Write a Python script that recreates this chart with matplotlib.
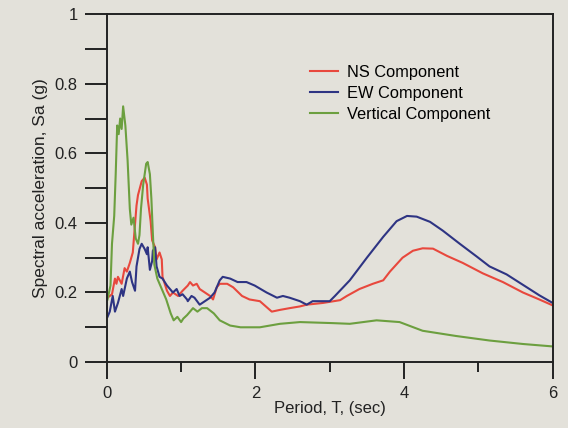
"""Response spectra of the three ground-motion components (recreated figure)."""

import matplotlib
matplotlib.use("Agg")
import matplotlib.pyplot as plt
from matplotlib.ticker import FixedLocator

plt.rcParams["font.family"] = ["Liberation Sans", "DejaVu Sans"]

# --- data ------------------------------------------------------------------
ns_period = [0.01, 0.07, 0.11, 0.13, 0.15, 0.20, 0.24, 0.27, 0.31, 0.35, 0.40,
             0.42, 0.47, 0.51, 0.54, 0.55, 0.59, 0.61, 0.65, 0.67, 0.71, 0.74,
             0.75, 0.81, 0.85, 0.89, 0.96, 1.02, 1.09, 1.12, 1.16, 1.21, 1.25,
             1.32, 1.39, 1.43, 1.48, 1.52, 1.62, 1.70, 1.82, 1.92, 2.06, 2.22,
             2.33, 2.46, 2.60, 2.69, 2.91, 3.14, 3.23, 3.40, 3.58, 3.72, 3.81,
             3.98, 4.12, 4.25, 4.39, 4.58, 4.79, 5.06, 5.33, 5.60, 5.82, 6.00]
ns_sa = [0.185, 0.195, 0.24, 0.225, 0.245, 0.225, 0.27, 0.26, 0.285, 0.315,
         0.45, 0.48, 0.52, 0.53, 0.51, 0.47, 0.405, 0.35, 0.33, 0.295, 0.315,
         0.295, 0.245, 0.205, 0.19, 0.20, 0.19, 0.205, 0.22, 0.23, 0.22, 0.225,
         0.21, 0.20, 0.19, 0.18, 0.215, 0.225, 0.225, 0.215, 0.19, 0.18, 0.175,
         0.145, 0.15, 0.155, 0.16, 0.165, 0.17, 0.178, 0.19, 0.21, 0.225,
         0.235, 0.26, 0.30, 0.32, 0.327, 0.326, 0.305, 0.285, 0.255, 0.23,
         0.20, 0.18, 0.163]

ew_period = [0.01, 0.04, 0.08, 0.11, 0.15, 0.20, 0.22, 0.27, 0.31, 0.34, 0.38,
             0.40, 0.44, 0.47, 0.51, 0.54, 0.55, 0.58, 0.61, 0.62, 0.65, 0.67,
             0.71, 0.75, 0.81, 0.85, 0.89, 0.94, 0.98, 1.02, 1.08, 1.09, 1.14,
             1.18, 1.25, 1.32, 1.39, 1.45, 1.52, 1.56, 1.66, 1.76, 1.88, 1.99,
             2.15, 2.29, 2.37, 2.46, 2.60, 2.69, 2.77, 3.00, 3.07, 3.27, 3.50,
             3.72, 3.90, 4.04, 4.17, 4.35, 4.52, 4.75, 4.98, 5.15, 5.38, 5.60,
             5.82, 6.00]
ew_sa = [0.13, 0.145, 0.19, 0.145, 0.17, 0.21, 0.19, 0.24, 0.26, 0.23, 0.205,
         0.275, 0.325, 0.34, 0.325, 0.31, 0.33, 0.265, 0.29, 0.32, 0.33, 0.275,
         0.245, 0.24, 0.22, 0.21, 0.20, 0.21, 0.19, 0.195, 0.18, 0.175, 0.19,
         0.185, 0.165, 0.175, 0.185, 0.20, 0.235, 0.245, 0.24, 0.23, 0.23,
         0.22, 0.20, 0.185, 0.19, 0.185, 0.175, 0.165, 0.175, 0.175, 0.19,
         0.235, 0.30, 0.36, 0.405, 0.42, 0.418, 0.403, 0.378, 0.34, 0.303,
         0.275, 0.252, 0.222, 0.192, 0.17]

vert_period = [0.01, 0.05, 0.07, 0.10, 0.12, 0.14, 0.16, 0.18, 0.20, 0.22,
               0.25, 0.28, 0.31, 0.33, 0.36, 0.39, 0.42, 0.44, 0.46, 0.49,
               0.53, 0.55, 0.58, 0.60, 0.62, 0.64, 0.68, 0.72, 0.80, 0.86,
               0.90, 0.95, 1.00, 1.03, 1.08, 1.16, 1.22, 1.28, 1.35, 1.44,
               1.52, 1.66, 1.80, 2.06, 2.33, 2.60, 3.04, 3.27, 3.63, 3.94,
               4.25, 4.70, 5.15, 5.60, 6.00]
vert_sa = [0.18, 0.22, 0.34, 0.42, 0.54, 0.68, 0.655, 0.70, 0.67, 0.735, 0.68,
           0.58, 0.44, 0.395, 0.415, 0.355, 0.34, 0.365, 0.44, 0.51, 0.57,
           0.575, 0.54, 0.47, 0.37, 0.28, 0.24, 0.22, 0.18, 0.14, 0.12, 0.13,
           0.115, 0.125, 0.135, 0.155, 0.145, 0.155, 0.155, 0.14, 0.12, 0.105,
           0.10, 0.10, 0.11, 0.115, 0.112, 0.11, 0.12, 0.115, 0.09, 0.075,
           0.062, 0.052, 0.045]

series = [
    (ns_period, ns_sa, "NS Component", "#e8483d"),
    (ew_period, ew_sa, "EW Component", "#2e3483"),
    (vert_period, vert_sa, "Vertical Component", "#6c9f3f"),
]

y_major = [0, 0.2, 0.4, 0.6, 0.8, 1.0]
y_major_labels = ["0", "0.2", "0.4", "0.6", "0.8", "1"]
y_minor = [0.1, 0.3, 0.5, 0.7, 0.9]
x_major = [0, 2, 4, 6]
x_minor = [1, 3, 5]

PAPER = "#e3e1da"
INK = "#222222"

fig = plt.figure(figsize=(5.68, 4.28), dpi=100, facecolor=PAPER)
ax = fig.add_axes([0.188, 0.154, 0.785, 0.813], facecolor=PAPER)

for period, sa, label, color in series:
    ax.plot(period, sa, color=color, linewidth=1.5, label=label)

ax.set_xlim(0, 6)
ax.set_ylim(0, 1)

ax.yaxis.set_major_locator(FixedLocator(y_major))
ax.set_yticklabels(y_major_labels)
ax.yaxis.set_minor_locator(FixedLocator(y_minor))
ax.xaxis.set_major_locator(FixedLocator(x_major))
ax.xaxis.set_minor_locator(FixedLocator(x_minor))

ax.tick_params(axis="y", which="both", direction="out", length=16, width=1.4,
               labelsize=12, pad=5, colors=INK)
ax.tick_params(axis="x", which="major", direction="out", length=12, width=1.4,
               labelsize=12, pad=5, colors=INK)
ax.tick_params(axis="x", which="minor", direction="out", length=7, width=1.4,
               colors=INK)

for side in ["left", "bottom", "top", "right"]:
    ax.spines[side].set_linewidth(1.4)
    ax.spines[side].set_color(INK)

ax.set_xlabel("Period, T, (sec)", fontsize=12, labelpad=0, color=INK)
ax.set_ylabel("Spectral acceleration, Sa (g)", fontsize=12.5, labelpad=5,
              color=INK)

ax.legend(loc="upper left", bbox_to_anchor=(0.422, 0.896), frameon=False,
          fontsize=11.8, handlelength=1.7, handletextpad=0.6, labelspacing=0.36)

fig.savefig("out.png", dpi=100, facecolor=PAPER)
